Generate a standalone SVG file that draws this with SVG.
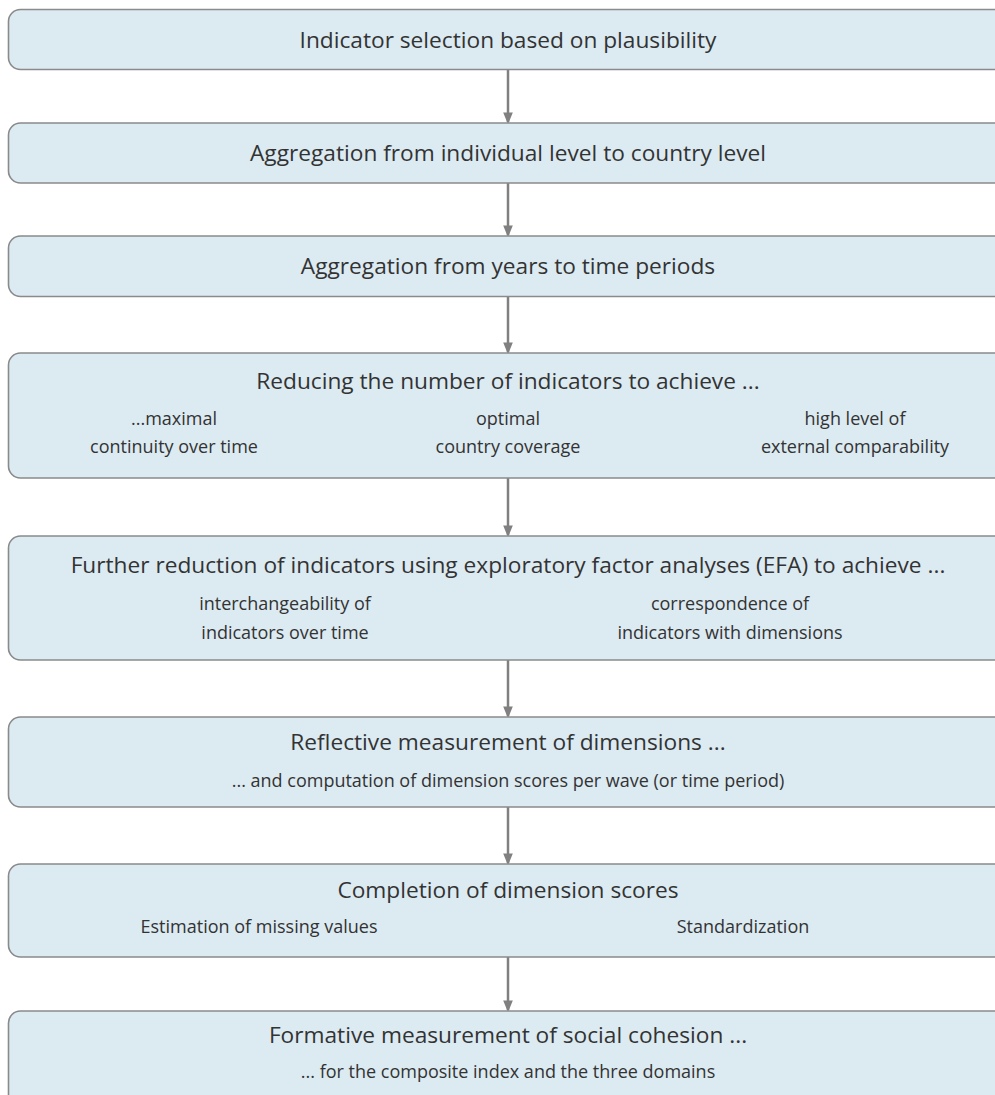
<svg xmlns="http://www.w3.org/2000/svg" width="995" height="1095" viewBox="0 0 995 1095">
<defs>
<style>
.box{fill:#dceaf2;stroke:#8a8a8a;stroke-width:1.6}
.t{font-family:"Open Sans","Noto Sans","Liberation Sans",sans-serif;font-size:22.7px;fill:#333;text-anchor:middle}
.s{font-family:"Open Sans","Noto Sans","Liberation Sans",sans-serif;font-size:18px;fill:#333;text-anchor:middle}
.c{stroke:#808080;stroke-width:2.5;fill:none}
</style>
<marker id="ah" markerWidth="12" markerHeight="15" refX="12" refY="6" orient="auto" markerUnits="userSpaceOnUse" viewBox="0 0 15 12">
<path d="M0,0 L15,6 L0,12 Z" fill="#808080"/>
</marker>
</defs>
<g id="connectors">
<line class="c" x1="508" y1="70" x2="508" y2="122" marker-end="url(#ah)"/>
<line class="c" x1="508" y1="183" x2="508" y2="235" marker-end="url(#ah)"/>
<line class="c" x1="508" y1="297" x2="508" y2="352" marker-end="url(#ah)"/>
<line class="c" x1="508" y1="478" x2="508" y2="535" marker-end="url(#ah)"/>
<line class="c" x1="508" y1="660" x2="508" y2="716" marker-end="url(#ah)"/>
<line class="c" x1="508" y1="807" x2="508" y2="863" marker-end="url(#ah)"/>
<line class="c" x1="508" y1="957" x2="508" y2="1010" marker-end="url(#ah)"/>
</g>
<g id="n1">
<rect class="box" x="8.5" y="9.5" width="1010" height="60" rx="12"/>
<text class="t" x="508" y="48">Indicator selection based on plausibility</text>
</g>
<g id="n2">
<rect class="box" x="8.5" y="123" width="1010" height="60" rx="12"/>
<text class="t" x="508" y="161">Aggregation from individual level to country level</text>
</g>
<g id="n3">
<rect class="box" x="8.5" y="236" width="1010" height="60.5" rx="12"/>
<text class="t" x="508" y="274">Aggregation from years to time periods</text>
</g>
<g id="n4">
<rect class="box" x="8.5" y="353" width="1010" height="125" rx="12"/>
<text class="t" x="508" y="389">Reducing the number of indicators to achieve ...</text>
<text class="s" x="174" y="425">...maximal</text>
<text class="s" x="174" y="453">continuity over time</text>
<text class="s" x="508" y="425">optimal</text>
<text class="s" x="508" y="453">country coverage</text>
<text class="s" x="855" y="425">high level of</text>
<text class="s" x="855" y="453">external comparability</text>
</g>
<g id="n5">
<rect class="box" x="8.5" y="536" width="1010" height="124" rx="12"/>
<text class="t" x="508" y="573">Further reduction of indicators using exploratory factor analyses (EFA) to achieve ...</text>
<text class="s" x="285" y="610">interchangeability of</text>
<text class="s" x="285" y="639">indicators over time</text>
<text class="s" x="730" y="610">correspondence of</text>
<text class="s" x="730" y="639">indicators with dimensions</text>
</g>
<g id="n6">
<rect class="box" x="8.5" y="717" width="1010" height="90" rx="12"/>
<text class="t" x="508" y="750">Reflective measurement of dimensions ...</text>
<text class="s" x="508" y="787">... and computation of dimension scores per wave (or time period)</text>
</g>
<g id="n7">
<rect class="box" x="8.5" y="864" width="1010" height="93" rx="12"/>
<text class="t" x="508" y="898">Completion of dimension scores</text>
<text class="s" x="259" y="933">Estimation of missing values</text>
<text class="s" x="743" y="933">Standardization</text>
</g>
<g id="n8">
<rect class="box" x="8.5" y="1011" width="1010" height="100" rx="12"/>
<text class="t" x="508" y="1043">Formative measurement of social cohesion ...</text>
<text class="s" x="508" y="1078">... for the composite index and the three domains</text>
</g>
</svg>
